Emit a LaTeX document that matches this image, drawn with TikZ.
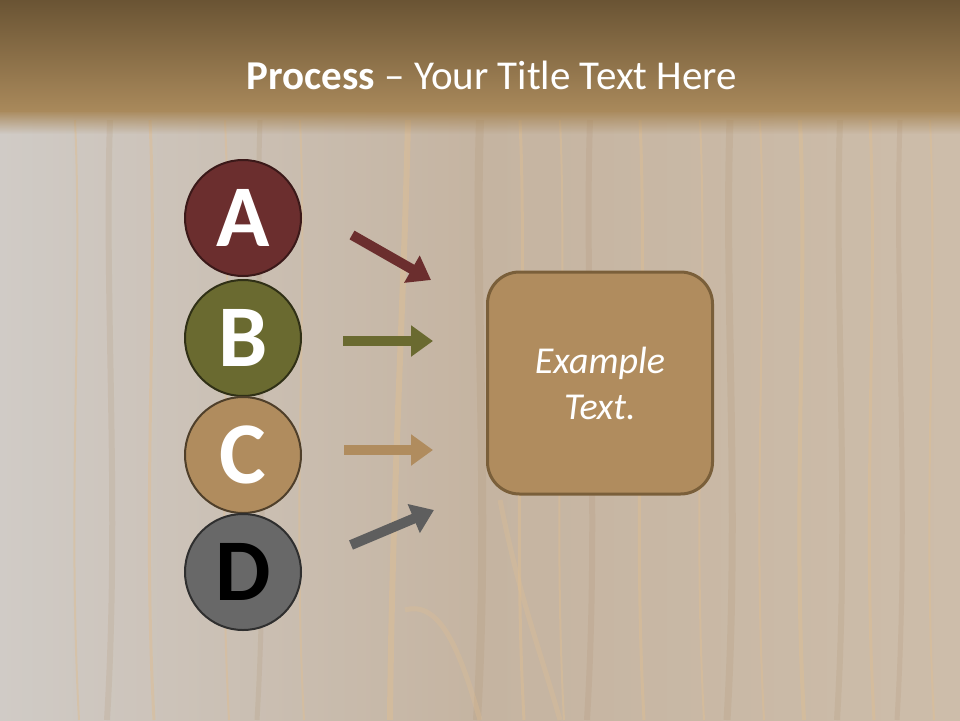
\documentclass[tikz,border=0pt]{standalone}
\usepackage{fontspec}
\setmainfont{Carlito}
\usetikzlibrary{arrows.meta}
\definecolor{bgleft}{HTML}{D0CBC6}
\definecolor{bgmid}{HTML}{C5B4A1}
\definecolor{bgright}{HTML}{CDBDAA}
\definecolor{grainlight}{HTML}{DDBE94}
\definecolor{graindark}{HTML}{A88660}
\definecolor{bartop}{HTML}{6A5434}
\definecolor{barbot}{HTML}{A9895B}
\definecolor{colA}{HTML}{6B2E2E}
\definecolor{colB}{HTML}{6A6A30}
\definecolor{colC}{HTML}{B08C5E}
\definecolor{colD}{HTML}{686868}
\definecolor{boxedge}{HTML}{7A5F3A}
\tikzset{
  letter/.style={circle, minimum size=116pt, inner sep=0pt, line width=2pt,
    font=\fontsize{88}{88}\selectfont\bfseries},
  flow/.style={line width=10pt, -{Triangle[width=30pt,length=22pt]}},
  grainl/.style={draw=grainlight, opacity=0.5},
  graind/.style={draw=graindark, opacity=0.15},
}
\begin{document}
\begin{tikzpicture}[x=1pt,y=-1pt]
\useasboundingbox (0,0) rectangle (960,720);
% background
\shade[left color=bgleft, right color=bgright, middle color=bgmid] (0,0) rectangle (960,720);
% wood grain hints
\foreach \x/\w in {75/2,150/3,225/2,300/2,520/3,560/2,640/3,700/2,760/2,800/4,870/3,930/2}{
  \draw[grainl, line width=\w pt] (\x,120) .. controls (\x+8,300) and (\x-8,500) .. (\x+4,720);
}
\foreach \x/\w in {110/6,260/5,480/8,590/6,730/7,840/6,900/5}{
  \draw[graind, line width=\w pt] (\x,120) .. controls (\x-6,300) and (\x+10,500) .. (\x-3,720);
}
\draw[grainl, line width=6pt] (408,120) .. controls (404,300) and (392,500) .. (390,720);
\draw[grainl, line width=5pt, opacity=0.35] (405,610) .. controls (440,600) and (460,650) .. (480,720);
\draw[grainl, line width=5pt, opacity=0.35] (500,500) .. controls (520,600) and (540,650) .. (560,720);
% title bar
\shade[top color=bartop, bottom color=barbot] (0,0) rectangle (960,111);
\foreach \i in {0,...,23}{
  \fill[barbot, opacity={1-\i/24}] (0,110+\i) rectangle (960,111.2+\i);
}
\node[text=white, font=\fontsize{41}{41}\selectfont] (title) at (492,75)
  {\textbf{Process} – Your Title Text Here};
% circles
\node[letter, fill=colA, draw=colA!55!black, text=white] (A) at (243,218) {A};
\node[letter, fill=colB, draw=colB!45!black, text=white] (B) at (243,338) {B};
\node[letter, fill=colC, draw=colC!45!black, text=white] (C) at (243,455) {C};
\node[letter, fill=colD, draw=colD!45!black, text=black] (D) at (243,572) {D};
% box
\node[draw=boxedge, fill=colC, line width=3pt, rounded corners=32pt,
  minimum width=225pt, minimum height=222pt, align=center, text=white,
  font=\fontsize{38}{46}\selectfont\itshape] (box) at (600,383) {Example\\Text.};
% arrows
\coordinate (a1) at (352,235); \coordinate (a2) at (431,280);
\coordinate (b1) at (343,341); \coordinate (b2) at (433,341);
\coordinate (c1) at (344,450); \coordinate (c2) at (433,450);
\coordinate (d1) at (351,545); \coordinate (d2) at (434,510);
\draw[flow, draw=colA, fill=colA] (a1) -- (a2);
\draw[flow, draw=colB, fill=colB] (b1) -- (b2);
\draw[flow, draw=colC, fill=colC] (c1) -- (c2);
\draw[flow, draw=colD!90!black, fill=colD!90!black] (d1) -- (d2);
\end{tikzpicture}
\end{document}
